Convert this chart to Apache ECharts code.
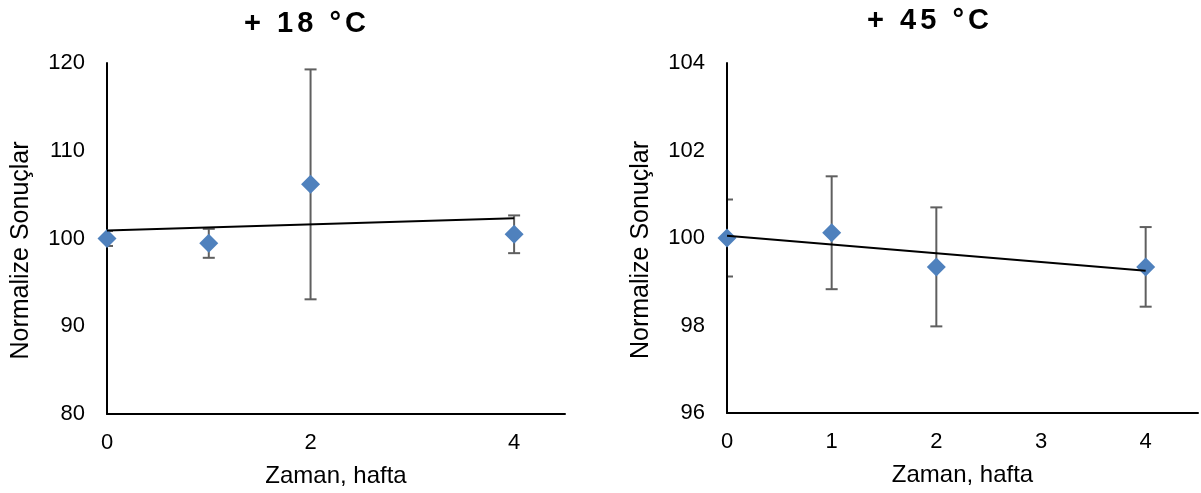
<!DOCTYPE html>
<html>
<head>
<meta charset="utf-8">
<title>Normalize Sonuçlar</title>
<script src="https://cdn.jsdelivr.net/npm/echarts@6/dist/echarts.min.js"></script>
<style>
  html, body { margin: 0; padding: 0; background: #fff; }
  #chart { width: 1201px; height: 493px; }
</style>
</head>
<body>
<div id="chart"></div>
<script>
// Time points (weeks)
const weeks = [0, 1, 2, 4];

// +18 °C: normalized means and their error (±)
const mean18 = [100.0, 99.45, 106.17, 100.48];
const err18 = [0.85, 1.65, 13.1, 2.15];

// +45 °C: normalized means and their error (±)
const mean45 = [100.0, 100.12, 99.34, 99.34];
const err45 = [0.88, 1.29, 1.36, 0.91];

// Linear trend lines, value at week 0 and week 4
const trendWeeks = [0, 4];
const trend18 = [100.92, 102.31];
const trend45 = [100.05, 99.25];

// Panel titles and axis texts
const titles = ['+ 18 °C', '+ 45 °C'];
const xName = 'Zaman, hafta';
const yName = 'Normalize Sonuçlar';

const FONT = 'Liberation Sans, Arial, sans-serif';
const MARKER = '#4F81BD';
const BAR = '#5f5f5f';

const chart = echarts.init(document.getElementById('chart'), null, { renderer: 'canvas' });

function pairs(xs, ys) { return xs.map((x, i) => [x, ys[i]]); }
function errData(xs, ys, es) { return xs.map((x, i) => [x, ys[i], es[i]]); }

// Wrap every character in a rich token so the title gets open letter spacing
function spaced(text) {
  return Array.from(text).map(c => '{c|' + c + '}').join('');
}

function errorBars(idx, data) {
  return {
    type: 'custom',
    xAxisIndex: idx, yAxisIndex: idx,
    clip: true,
    z: 1,
    data: data,
    renderItem: function (params, api) {
      const x = api.value(0), m = api.value(1), e = api.value(2);
      const hi = api.coord([x, m + e]);
      const lo = api.coord([x, m - e]);
      const cap = 6;
      const style = { stroke: BAR, lineWidth: 2 };
      return {
        type: 'group',
        children: [
          { type: 'line', shape: { x1: hi[0], y1: hi[1], x2: lo[0], y2: lo[1] }, style: style },
          { type: 'line', shape: { x1: hi[0] - cap, y1: hi[1], x2: hi[0] + cap, y2: hi[1] }, style: style },
          { type: 'line', shape: { x1: lo[0] - cap, y1: lo[1], x2: lo[0] + cap, y2: lo[1] }, style: style }
        ]
      };
    }
  };
}

function xAxis(idx, interval) {
  return {
    type: 'value', gridIndex: idx,
    min: 0, max: 4.5, interval: interval,
    name: xName, nameLocation: 'middle', nameGap: 50,
    nameTextStyle: { fontFamily: FONT, fontSize: 24, color: '#000' },
    axisLine: { show: true, lineStyle: { color: '#000', width: 2 } },
    axisTick: { show: false },
    splitLine: { show: false },
    axisLabel: { fontFamily: FONT, fontSize: 22, color: '#000', margin: 18, showMaxLabel: false },
    z: 1
  };
}

function yAxis(idx, min, max, interval) {
  return {
    type: 'value', gridIndex: idx,
    min: min, max: max, interval: interval,
    name: yName, nameLocation: 'middle', nameGap: 73, nameRotate: 90,
    // extra right padding moves the rotated name a little down along the axis
    nameTextStyle: { fontFamily: FONT, fontSize: 25, color: '#000', padding: [0, 24, 0, 0] },
    axisLine: { show: true, lineStyle: { color: '#000', width: 2 } },
    axisTick: { show: false },
    splitLine: { show: false },
    axisLabel: { fontFamily: FONT, fontSize: 22, color: '#000', margin: 22 },
    z: 1
  };
}

function markers(idx, data) {
  return {
    type: 'scatter', xAxisIndex: idx, yAxisIndex: idx,
    symbol: 'diamond', symbolSize: 19,
    itemStyle: { color: MARKER, opacity: 1 },
    z: 2,
    data: data
  };
}

function trend(idx, data) {
  return {
    type: 'line', xAxisIndex: idx, yAxisIndex: idx,
    showSymbol: false, symbol: 'none',
    lineStyle: { color: '#000', width: 2 },
    z: 3,
    silent: true,
    data: data
  };
}

const titleStyle = {
  fontFamily: FONT, fontSize: 29, fontWeight: 'bold', color: '#000',
  rich: {
    c: { fontFamily: FONT, fontSize: 29, fontWeight: 'bold', color: '#000', padding: [0, 2, 0, 2] }
  }
};

const option = {
  backgroundColor: '#fff',
  animation: false,
  title: [
    { text: spaced(titles[0]), left: 305, top: 9, textAlign: 'center', padding: 0, textStyle: titleStyle },
    { text: spaced(titles[1]), left: 928, top: 6, textAlign: 'center', padding: 0, textStyle: titleStyle }
  ],
  grid: [
    { left: 107, top: 63, width: 458, height: 351 },
    { left: 727, top: 63, width: 471, height: 350 }
  ],
  xAxis: [xAxis(0, 2), xAxis(1, 1)],
  yAxis: [yAxis(0, 80, 120, 10), yAxis(1, 96, 104, 2)],
  series: [
    errorBars(0, errData(weeks, mean18, err18)),
    markers(0, pairs(weeks, mean18)),
    trend(0, pairs(trendWeeks, trend18)),
    errorBars(1, errData(weeks, mean45, err45)),
    markers(1, pairs(weeks, mean45)),
    trend(1, pairs(trendWeeks, trend45))
  ]
};

chart.setOption(option);
</script>
</body>
</html>
